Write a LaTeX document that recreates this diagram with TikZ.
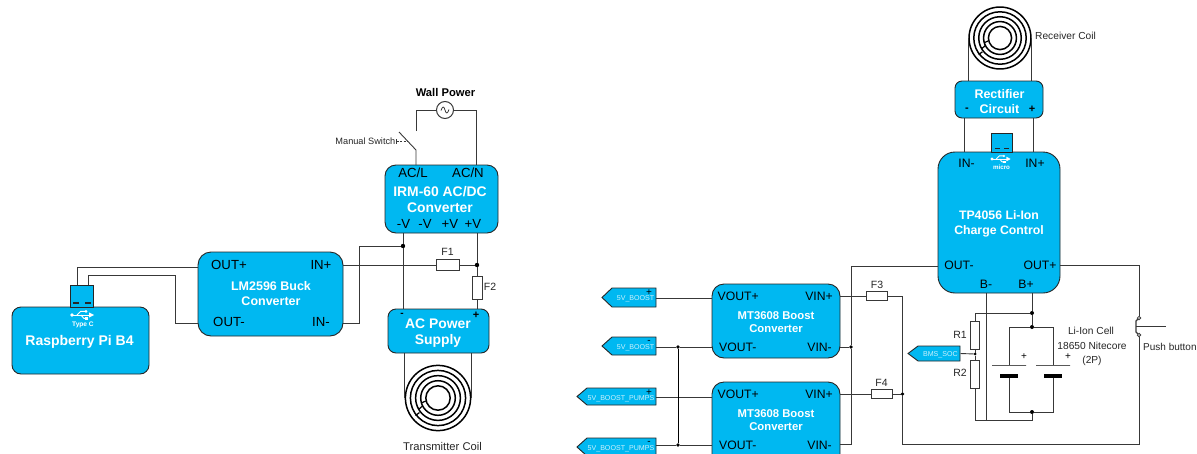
\documentclass[tikz,border=0pt]{standalone}
\usepackage{fontspec}
\setmainfont{Liberation Sans}
\usetikzlibrary{calc,arrows.meta}
\definecolor{boxblue}{HTML}{00B8F1}
\definecolor{wirecol}{HTML}{383838}
\tikzset{
  wire/.style={draw=wirecol,line width=.9pt},
  blk/.style={draw=black!85,line width=.9pt,fill=boxblue,inner sep=0pt,outer sep=0pt},
  title/.style={text=white,font=\bfseries\fontsize{12.5}{15}\selectfont,align=center,inner sep=0pt},
  pin/.style={text=black,font=\fontsize{13.2}{15}\selectfont,inner sep=0pt},
  pinb/.style={text=black,font=\fontsize{12.2}{15}\selectfont,inner sep=0pt},
  small/.style={text=black!85,font=\fontsize{10.2}{12}\selectfont,align=center,inner sep=0pt},
  fuselab/.style={text=black!85,font=\fontsize{10.5}{12}\selectfont,inner sep=0pt},
  tagtext/.style={text=white!80!boxblue,font=\fontsize{7.1}{8}\selectfont,inner sep=0pt},
  dot/.style={circle,fill=black,inner sep=0pt,minimum size=4.4pt,outer sep=0pt},
  fuse/.style={draw=wirecol,line width=.9pt,fill=white,inner sep=0pt,outer sep=0pt},
  resistor/.style={fuse},
  ring/.style={draw=black,line width=1.5pt},
  usbbar/.style={draw=black!85,line width=1.1pt},
}
\newcommand{\mkbox}[6]{% name x1 y1 x2 y2 radius
  \node[blk,rounded corners=#6pt,minimum width={(#4-#2)*1pt},minimum height={(#5-#3)*1pt}] (#1) at ({(#2+#4)/2},{(#3+#5)/2}) {};}
\newcommand{\mkcoil}[4]{% name x y scale
  \node[circle,inner sep=0pt,outer sep=0pt,minimum size={2*33.2*#4*1pt}] (#1) at (#2,#3) {};
  \foreach \rr in {12.2,17.3,22.4,27.6,32.6}{\draw[ring] (#2,#3) circle ({\rr*#4});}
  \draw[ring,line width=1.2pt] ($(#2,#3)+({-12.2*#4},{3*#4})$) -- ($(#2,#3)+({-16.8*#4},{5*#4})$);
  \draw[ring,line width=1.2pt] ($(#2,#3)+({-15.5*#4},{8*#4})$) -- ($(#2,#3)+({-19.5*#4},{11.5*#4})$);
  \draw[ring,line width=1.2pt] ($(#2,#3)+({-18.5*#4},{14.5*#4})$) -- ($(#2,#3)+({-22.5*#4},{17.5*#4})$);
}
\newcommand{\mkusb}[3]{% x y scale
  \begin{scope}[shift={(#1,#2)},scale=#3,draw=white,fill=white,line width=.9pt]
    \draw (-9,0) -- (8,0);
    \fill (-10,0) circle (1.9);
    \fill (12,0) -- (7,-2.6) -- (7,2.6) -- cycle;
    \draw (-5,0) -- (-1.5,-3.6) -- (3,-3.6);
    \fill (4,-3.6) circle (1.5);
    \draw (-1,0) -- (1.8,3.4) -- (4,3.4);
    \fill (3.4,1.8) rectangle (6.2,5);
  \end{scope}
}
\newcommand{\mktag}[7]{% name x1 xTip y1 y2 text polar
  \draw[blk] (#3,{(#4+#5)/2}) -- (#3+10,#4) -- (656,#4) -- (656,#5) -- (#3+10,#5) -- cycle;
  \node[inner sep=0pt,outer sep=0pt,minimum width=0pt,minimum height=0pt] (#1) at (656,{(#4+#5)/2}) {};
  \node[tagtext,anchor=east] (#1t) at (654.5,#4+11) {#6};
  \node[text=black,inner sep=0pt,font=\fontsize{10}{10}\selectfont] (#1p) at (649,#4+4.5) {#7};
}
\begin{document}
\begin{tikzpicture}[x=1pt,y=-1pt]
\useasboundingbox (0,0) rectangle (1197,453);

% ---------- LEFT: boxes ----------
\mkbox{pi}{12}{307}{149}{374}{9}
\mkbox{usbc}{70.5}{285}{93}{307}{0}
\mkbox{lm}{198}{252}{343}{336}{13}
\mkbox{irm}{385}{165}{498}{233}{11}
\mkbox{acps}{388}{309}{489}{353}{8}

% Pi
\node[title,font=\bfseries\fontsize{14}{15}\selectfont] (pit) at (79.5,341.5) {Raspberry Pi B4};
\draw[usbbar] (73,303) -- (79,303);
\draw[usbbar] (85,303) -- (91,303);
\mkusb{82}{315}{1}
\node[text=white,font=\bfseries\fontsize{6.6}{7}\selectfont,inner sep=0pt] (tc) at (83,324.5) {Type C};

% LM2596
\node[title] (lmt) at (271,294) {LM2596 Buck\\[0pt]Converter};
\node[pin] (lm1) at (229,265) {OUT+};
\node[pin] (lm2) at (229,322) {OUT-};
\node[pin] (lm3) at (321,265) {IN+};
\node[pin] (lm4) at (321,322) {IN-};

% IRM
\node[title,font=\bfseries\fontsize{13.9}{16}\selectfont] (irmt) at (440,199.5) {IRM-60 AC/DC\\[0pt]Converter};
\node[pin] (ir1) at (413,173) {AC/L};
\node[pin] (ir2) at (468,173) {AC/N};
\node[pin] (ir3) at (403.5,224) {-V};
\node[pin] (ir4) at (425,224) {-V};
\node[pin] (ir5) at (450,224) {+V};
\node[pin] (ir6) at (473,224) {+V};

% AC Power Supply
\node[title,font=\bfseries\fontsize{13.9}{16}\selectfont] (act) at (438,333) {AC Power\\[0pt]Supply};
\node[text=black,font=\bfseries\fontsize{10}{10}\selectfont,inner sep=0pt] (acm) at (402,314.5) {-};
\node[text=black,font=\bfseries\fontsize{11}{11}\selectfont,inner sep=0pt] (acp) at (476,315) {+};

% Left fuses
\node[fuse,minimum width=23pt,minimum height=11pt] (f1) at (448,265) {};
\node[fuse,minimum width=10pt,minimum height=23pt] (f2) at (477,288) {};
\node[fuselab] (f1t) at (447.5,251.5) {F1};
\node[fuselab] (f2t) at (490,287) {F2};

% Junctions
\node[dot] (j1) at (403,246) {};
\node[dot] (j2) at (477,265) {};
\coordinate (a1) at (77.5,267);
\coordinate (a2) at (88.5,275);
\coordinate (a3) at (175,275);
\coordinate (a4) at (175,323);
\coordinate (a5) at (359,323);
\coordinate (a6) at (359,246);

% Left wires
\draw[wire] (a1 |- usbc.north) -- (a1) -- (lm.west |- a1);
\draw[wire] (a2 |- usbc.north) -- (a2) -- (a3) -- (a4) -- (lm.west |- a4);
\draw[wire] (lm.east |- f1.west) -- (f1.west);
\draw[wire] (f1.east) -- (j2);
\draw[wire] (lm.east |- a5) -- (a5) -- (a6) -- (j1);
\draw[wire] (j1 |- irm.south) -- (j1) -- (j1 |- acps.north);
\draw[wire] (j2 |- irm.south) -- (j2) -- (f2.north);
\draw[wire] (f2.south) -- (f2.south |- acps.north);

% Wall power + switch
\node[circle,draw=wirecol,line width=1pt,minimum size=17pt,inner sep=0pt,outer sep=0pt] (src) at (445,110) {};
\draw[wirecol,line width=.8pt] (441,110.5) .. controls (442.5,106) and (444,106) .. (445,110) .. controls (446,114) and (447.5,114) .. (449,109.5);
\node[text=black,font=\bfseries\fontsize{11.2}{13}\selectfont,inner sep=0pt] (wp) at (445.5,92) {Wall Power};
\coordinate (s1) at (416,131);
\coordinate (s2) at (416,150);
\coordinate (s3) at (399,132);
\coordinate (s4) at (476,110);
\coordinate (s5) at (416,110);
\draw[wire] (s1) -- (s5) -- (src.west);
\draw[wire] (src.east) -- (s4) -- (s4 |- irm.north);
\draw[wire] (s2 |- irm.north) -- (s2) -- (s3);
\node[small,font=\fontsize{9.2}{10}\selectfont,anchor=east] (ms) at (395.5,141.5) {Manual Switch};
\coordinate (d1) at (397,141.5);
\coordinate (d2) at (408,141.5);
\draw[wirecol,line width=.8pt,dash pattern=on 2pt off 1.3pt] (d1) -- (d2);
\draw[wirecol,line width=.8pt] (396.5,139) -- (396.5,144);

% Transmitter coil
\mkcoil{ct}{438}{398}{1}
\draw[wire] (ct.west) -- (ct.west |- acps.south);
\draw[wire] (ct.east) -- (ct.east |- acps.south);
\node[small,font=\fontsize{11.2}{12}\selectfont] (ctt) at (442.5,446) {Transmitter Coil};

% ---------- RIGHT: boxes ----------
\mkcoil{cr}{1000}{38}{.95}
\mkbox{rect}{955}{81}{1043}{118}{7}
\mkbox{tp}{938}{152}{1060}{293}{17}
\mkbox{usbm2}{991}{133}{1012}{152}{0}
\mkbox{mt1}{712}{284}{840}{358}{12}
\mkbox{mt2}{712}{382}{840}{466}{12}

\node[small,anchor=west] (crt) at (1035,36) {Receiver Coil};
\draw[wire] (cr.west) -- (cr.west |- rect.north);
\draw[wire] (cr.east) -- (cr.east |- rect.north);

\node[title] (rectt) at (999.5,101.5) {Rectifier\\[0pt]Circuit};
\node[text=black,font=\bfseries\fontsize{11}{11}\selectfont,inner sep=0pt] (recm) at (967,110) {-};
\node[text=black,font=\bfseries\fontsize{11}{11}\selectfont,inner sep=0pt] (recp) at (1032,109.5) {+};

\coordinate (r1) at (964,135);
\coordinate (r2) at (1033,135);
\draw[wire] (r1 |- rect.south) -- (r1 |- tp.north);
\draw[wire] (r2 |- rect.south) -- (r2 |- tp.north);

\draw[usbbar] (994.5,148.5) -- (999.5,148.5);
\draw[usbbar] (1004,148.5) -- (1009,148.5);
\mkusb{1000.5}{159}{.85}
\node[text=white,font=\bfseries\fontsize{6.2}{7}\selectfont,inner sep=0pt] (mic) at (1001.5,167) {micro};

\node[pinb] (tp1) at (966.5,163) {IN-};
\node[pinb] (tp2) at (1035,163) {IN+};
\node[title,font=\bfseries\fontsize{12.3}{15}\selectfont] (tpt) at (999,223.5) {TP4056 Li-Ion\\[0pt]Charge Control};
\node[pinb] (tp3) at (959,265) {OUT-};
\node[pinb] (tp4) at (1040,265) {OUT+};
\node[pinb] (tp5) at (986,284) {B-};
\node[pinb] (tp6) at (1026,284) {B+};

\node[title,font=\bfseries\fontsize{11.3}{13}\selectfont] (mt1t) at (776,322) {MT3608 Boost\\[0pt]Converter};
\node[title,font=\bfseries\fontsize{11.3}{13}\selectfont] (mt2t) at (776,420) {MT3608 Boost\\[0pt]Converter};
\node[pinb,anchor=west] (m1a) at (717.5,296) {VOUT+};
\node[pinb,anchor=west] (m1b) at (719,347) {VOUT-};
\node[pinb,anchor=east] (m1c) at (833,296) {VIN+};
\node[pinb,anchor=east] (m1d) at (832,347) {VIN-};
\node[pinb,anchor=west] (m2a) at (717.5,394) {VOUT+};
\node[pinb,anchor=west] (m2b) at (719,445) {VOUT-};
\node[pinb,anchor=east] (m2c) at (833,394) {VIN+};
\node[pinb,anchor=east] (m2d) at (832,445) {VIN-};

% tags
\mktag{t1}{602}{602}{288}{307}{5V\_BOOST}{+}
\mktag{t2}{602}{602}{337}{355}{5V\_BOOST}{-}
\mktag{t3}{577}{577}{388}{405}{5V\_BOOST\_PUMPS}{+}
\mktag{t4}{577}{577}{438}{456}{5V\_BOOST\_PUMPS}{-}

% left output wires of boost
\draw[wire] (656,298) -- (mt1.west |- 0,298);
\node[dot,minimum size=3.8pt] (j3) at (678,347) {};
\node[dot,minimum size=3.8pt] (j4) at (678,445) {};
\draw[wire] (656,347) -- (j3) -- (mt1.west |- j3);
\draw[wire] (656,397) -- (mt2.west |- 0,397);
\draw[wire] (656,445) -- (j4) -- (mt2.west |- j4);
\draw[wire,draw=black] (j3) -- (j4);

% fuses
\node[fuse,minimum width=21pt,minimum height=8.5pt] (f3) at (877,296) {};
\node[fuse,minimum width=21pt,minimum height=8.5pt] (f4) at (881.5,394) {};
\node[fuselab] (f3t) at (877,284.5) {F3};
\node[fuselab] (f4t) at (881.5,382.5) {F4};

\node[dot,minimum size=3.8pt] (j5) at (851,347) {};
\node[dot,minimum size=3.8pt] (j6) at (902.5,394) {};
\coordinate (b1) at (851,266);
\coordinate (b2) at (851,444.5);
\coordinate (b3) at (902.5,296);
\coordinate (b4) at (902.5,444);
\coordinate (b5) at (1139,444);
\coordinate (b6) at (1139,265);
\node[circle,draw=wirecol,fill=white,line width=.8pt,inner sep=0pt,minimum size=3.4pt,outer sep=0pt] (pb1) at (1139,318) {};
\node[circle,draw=wirecol,fill=white,line width=.8pt,inner sep=0pt,minimum size=3.4pt,outer sep=0pt] (pb2) at (1139,335) {};

\draw[wire] (mt1.east |- f3.west) -- (f3.west);
\draw[wire] (f3.east) -- (b3) -- (j6);
\draw[wire] (mt2.east |- f4.west) -- (f4.west);
\draw[wire] (f4.east) -- (j6) -- (b4) -- (b5) -- (pb2.south);
\draw[wire] (mt1.east |- j5) -- (j5);
\draw[wire] (mt2.east |- b2) -- (b2) -- (j5) -- (b1) -- (tp.west |- b1);
\draw[wire] (tp.east |- b6) -- (b6) -- (pb1.north);

% push button
\coordinate (pb3) at (1136,326);
\coordinate (pb4) at (1166,326);
\draw[wire] (pb3) -- (pb4);
\draw[wirecol,line width=1.2pt] (1138,319) -- (1136,321) -- (1136,332) -- (1138,334);
\node[small,font=\fontsize{10}{12}\selectfont,anchor=west] (pbt) at (1143,347) {Push button};

% R1 R2, BMS
\node[resistor,minimum width=8.5pt,minimum height=28pt] (r1box) at (975,335) {};
\node[resistor,minimum width=8.5pt,minimum height=28pt] (r2box) at (975,374) {};
\node[fuselab] (r1t) at (960,334.5) {R1};
\node[fuselab] (r2t) at (960,373) {R2};
\node[dot,minimum size=3pt] (j7) at (975,354) {};
\node[dot,minimum size=4pt] (j8) at (1032,313) {};
\node[dot,minimum size=4pt] (j9) at (1032,327) {};
\node[dot,minimum size=4pt] (j10) at (1032,412) {};
\coordinate (c1) at (975,313);
\coordinate (c2) at (975,420);
\coordinate (c3) at (1032,420);
\coordinate (c4) at (986,420);
\draw[wire] (j8) -- (c1) -- (r1box.north);
\draw[wire] (r1box.south) -- (j7) -- (r2box.north);
\draw[wire] (r2box.south) -- (c2) -- (c3) -- (j10);
\draw[wire] (c4 |- tp.south) -- (c4);
\draw[wire] (j8 |- tp.south) -- (j8) -- (j9);

\draw[blk] (908,353.5) -- (918,346) -- (960,346) -- (960,361) -- (918,361) -- cycle;
\node[inner sep=0pt,outer sep=0pt] (bms) at (960,353.5) {};
\node[tagtext,anchor=east] (bmst) at (958,355) {BMS\_SOC};
\draw[wire] (bms) -- (j7);

% batteries
\coordinate (d3) at (1009,327);
\coordinate (d4) at (1053,327);
\coordinate (d5) at (1009,412);
\coordinate (d6) at (1053,412);
\node[inner sep=0pt,outer sep=0pt,minimum width=34pt,minimum height=0pt,draw=black,line width=.9pt] (bp1) at (1009,365) {};
\node[inner sep=0pt,outer sep=0pt,minimum width=34pt,minimum height=0pt,draw=black,line width=.9pt] (bp2) at (1053,365) {};
\node[inner sep=0pt,outer sep=0pt,minimum width=18pt,minimum height=4pt,fill=black] (bn1) at (1009,376) {};
\node[inner sep=0pt,outer sep=0pt,minimum width=18pt,minimum height=4pt,fill=black] (bn2) at (1053,376) {};
\draw[wire] (bp1.center) -- (d3) -- (j9) -- (d4) -- (bp2.center);
\draw[wire] (bn1.south) -- (d5) -- (j10) -- (d6) -- (bn2.south);
\node[text=black,inner sep=0pt,font=\fontsize{10}{10}\selectfont] (pl1) at (1024,357) {+};
\node[text=black,inner sep=0pt,font=\fontsize{10}{10}\selectfont] (pl2) at (1068,357) {+};
\node[small] (li1) at (1091,330.5) {Li-Ion Cell};
\node[small] (li2) at (1092,345.5) {18650 Nitecore};
\node[small] (li3) at (1092,360.5) {(2P)};
\end{tikzpicture}
\end{document}
